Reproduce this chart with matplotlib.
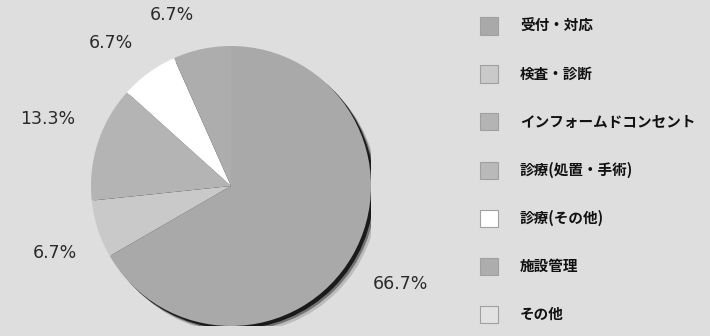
import matplotlib
matplotlib.use("Agg")
import numpy as np
import matplotlib.pyplot as plt
from matplotlib.patches import Circle, Rectangle

plt.rcParams['font.family'] = ['Noto Sans CJK JP', 'DejaVu Sans']

categories = ['受付・対応', '検査・診断', 'インフォームドコンセント', '診療(処置・手術)',
              '診療(その他)', '施設管理', 'その他']
counts = [10, 1, 2, 0, 1, 1, 0]
colors = ['#a9a9a9', '#c9c9c9', '#b4b4b4', '#b9b9b9', '#ffffff', '#adadad', '#e2e2e2']

# label placement style (radius multiple, angle nudge in degrees) per category
label_dist = [1.40, 1.345, 1.39, 1.36, 1.33, 1.29, 1.36]
label_nudge = [0, 3, -2, 0, 4, 7, 0]

W, H = 710, 336
fig = plt.figure(figsize=(W / 100, H / 100), dpi=100)
bg = '#dedede'
fig.patch.set_facecolor(bg)

cx, cy, r = 231, 186, 140
ax = fig.add_axes([(cx - r) / W, (H - cy - r) / H, 2 * r / W, 2 * r / H])
ax.set_aspect('equal')
ax.axis('off')

# soft shadow behind the pie
for off, col, a in [(0.05, '#9a9a9a', 0.5), (0.035, '#555555', 0.7), (0.022, '#111111', 0.9)]:
    ax.add_patch(Circle((off, -off), 1.0, color=col, alpha=a, zorder=0, lw=0))

wedges, _ = ax.pie(counts, colors=colors, startangle=90, counterclock=False,
                   radius=1.0, wedgeprops=dict(linewidth=0))
for w in wedges:
    w.set_zorder(1)

total = sum(counts)
for i, (w, c) in enumerate(zip(wedges, counts)):
    if c == 0:
        continue
    ang = np.deg2rad((w.theta1 + w.theta2) / 2 + label_nudge[i])
    d = label_dist[i]
    ax.text(d * np.cos(ang), d * np.sin(ang), f'{100 * c / total:.1f}%',
            ha='center', va='center', fontsize=12.5, color='#2a2a2a',
            family='DejaVu Sans', clip_on=False)

ax.set_xlim(-1, 1)
ax.set_ylim(-1, 1)

# legend
x0 = 480 / W
sw, sh = 18 / W, 17 / H
y_first, step = 26, 48.0
for i, (lab, col) in enumerate(zip(categories, colors)):
    yc = y_first + i * step
    yb = (H - yc - 8.5) / H
    fig.patches.append(Rectangle((x0, yb), sw, sh, transform=fig.transFigure,
                                 facecolor=col, edgecolor='#a0a0a0', lw=0.8))
    fig.text(520 / W, (H - yc) / H, lab, fontsize=10.5, color='#111111',
             va='center', ha='left', fontweight='bold')

fig.savefig('out.png', dpi=100, facecolor=bg)
